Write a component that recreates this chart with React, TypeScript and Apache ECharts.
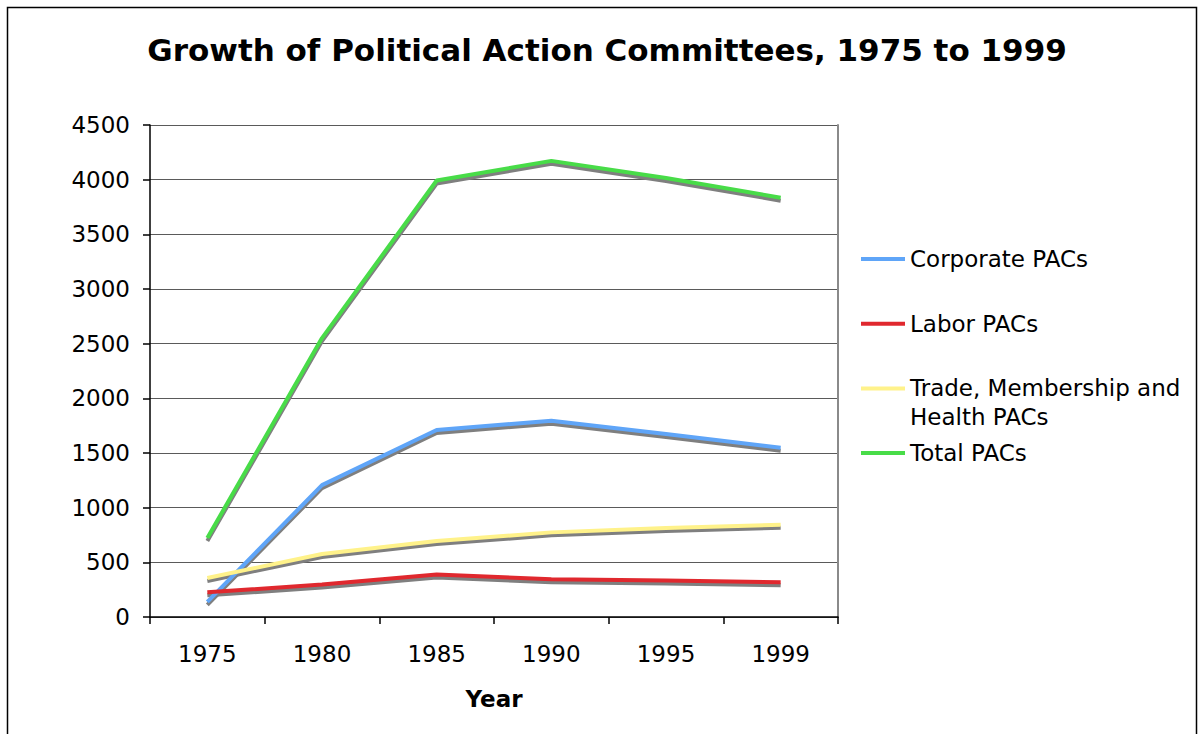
import React, { useEffect, useRef } from "react";
import * as echarts from "echarts";

const years = ["1975", "1980", "1985", "1990", "1995", "1999"];
const corporate = [139, 1206, 1710, 1795, 1674, 1548];
const labor = [226, 297, 388, 346, 334, 318];
const trade = [357, 576, 695, 774, 815, 844];
const total = [722, 2551, 3992, 4172, 4016, 3835];

const seriesNames = ["Corporate PACs", "Labor PACs", "Trade, Membership and\nHealth PACs", "Total PACs"];
const seriesColors = ["#5FA5F8", "#E0282E", "#FFF28A", "#48DC48"];
const seriesData = [corporate, labor, trade, total];

const FONT = "'DejaVu Sans', Verdana, sans-serif";

export default function App() {
  const ref = useRef<HTMLDivElement>(null);
  useEffect(() => {
    if (!ref.current) return;
    const chart = echarts.init(ref.current, null, { renderer: "svg" });
    const gridMain = { left: 150, right: 361, top: 125, bottom: 117 };
    const gridShadow = { left: 150, right: 361, top: 128, bottom: 114 };

    const shadowSeries = seriesData.map((d, i) => ({
      type: "line",
      name: "shadow" + i,
      xAxisIndex: 1,
      yAxisIndex: 2,
      data: d,
      symbol: "none",
      silent: true,
      z: 2,
      lineStyle: { color: "#7f7f7f", width: 4 },
    }));
    const mainSeries = seriesData.map((d, i) => ({
      type: "line",
      name: seriesNames[i],
      xAxisIndex: 0,
      yAxisIndex: 0,
      data: d,
      symbol: "none",
      z: 3,
      lineStyle: { color: seriesColors[i], width: 4 },
    }));

    const legendTop = 259;
    const legendStep = 64.7;
    const legendGraphics: any[] = [];
    seriesNames.forEach((n, i) => {
      const y = legendTop + i * legendStep;
      legendGraphics.push({
        type: "line",
        shape: { x1: 861, y1: y, x2: 905, y2: y },
        style: { stroke: seriesColors[i], lineWidth: 4 },
      });
      legendGraphics.push({
        type: "text",
        x: 910,
        y: y - 14.5,
        style: {
          text: n,
          font: `23px ${FONT}`,
          fill: "#000",
          lineHeight: 29,
          textVerticalAlign: "top",
        },
      });
    });

    chart.setOption({
      animation: false,
      backgroundColor: "#fff",
      title: {
        text: "Growth of Political Action Committees, 1975 to 1999",
        left: 602,
        top: 29,
        textAlign: "center",
        textStyle: { fontFamily: FONT, fontWeight: "bold", fontSize: 31, color: "#000" },
      },
      grid: [gridMain, gridShadow],
      xAxis: [
        {
          type: "category",
          gridIndex: 0,
          data: years,
          boundaryGap: true,
          name: "Year",
          nameLocation: "middle",
          nameGap: 70,
          nameTextStyle: { fontFamily: FONT, fontWeight: "bold", fontSize: 23, color: "#000" },
          axisLine: { lineStyle: { color: "#000", width: 1.5 } },
          axisTick: { show: true, length: 7, inside: false, alignWithLabel: false, lineStyle: { color: "#000", width: 1.5 } },
          axisLabel: { fontFamily: FONT, fontSize: 23, color: "#000", margin: 25 },
          splitLine: { show: false },
        },
        {
          type: "category",
          gridIndex: 1,
          data: years,
          boundaryGap: true,
          show: false,
        },
      ],
      yAxis: [
        {
          type: "value",
          gridIndex: 0,
          min: 0,
          max: 4500,
          interval: 500,
          axisLine: { show: true, lineStyle: { color: "#000", width: 1.5 } },
          axisTick: { show: true, length: 7, lineStyle: { color: "#000", width: 1.5 } },
          axisLabel: { fontFamily: FONT, fontSize: 23, color: "#000", margin: 20, formatter: (v: number) => String(v) },
          splitLine: { show: true, lineStyle: { color: "#5a5a5a", width: 1.2 } },
        },
        {
          type: "value",
          gridIndex: 0,
          position: "right",
          min: 0,
          max: 4500,
          interval: 500,
          axisLine: { show: true, lineStyle: { color: "#8a8a8a", width: 2 } },
          axisTick: { show: false },
          axisLabel: { show: false },
          splitLine: { show: false },
        },
        {
          type: "value",
          gridIndex: 1,
          min: 0,
          max: 4500,
          interval: 500,
          show: false,
          splitLine: { show: false },
        },
      ],
      graphic: [
        {
          type: "rect",
          shape: { x: 7.5, y: 7.5, width: 1189, height: 760 },
          style: { fill: "none", stroke: "#000", lineWidth: 1.5 },
          silent: true,
        },
        ...legendGraphics,
      ],
      series: [...shadowSeries, ...mainSeries],
    });
    return () => chart.dispose();
  }, []);
  return (
    <div
      ref={ref}
      style={{ position: "fixed", left: 0, top: 0, width: 1199, height: 734 }}
    />
  );
}
